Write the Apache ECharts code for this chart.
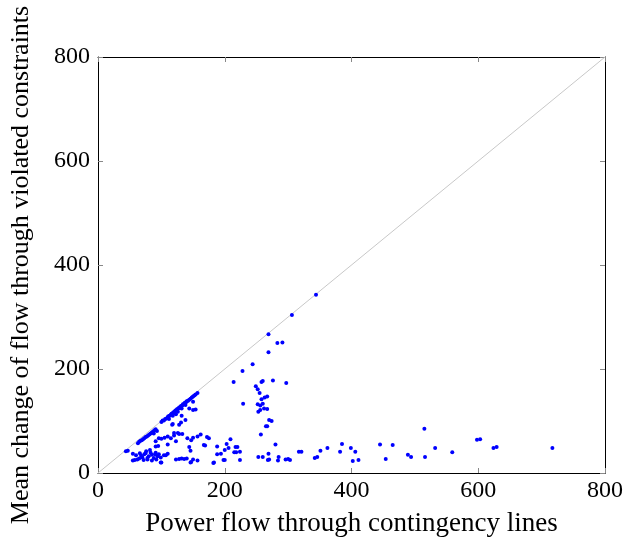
<!DOCTYPE html>
<html>
<head>
<meta charset="utf-8">
<script src="https://cdn.jsdelivr.net/npm/echarts@6/dist/echarts.min.js"></script>
<style>
  html, body { margin: 0; padding: 0; background: #fff; }
  #chart { width: 626px; height: 542px; }
</style>
</head>
<body>
<div id="chart"></div>
<script>
var axisTicks = [0, 200, 400, 600, 800];
var diagonal = [[0, 0], [800, 800]];

// points close to the y = x line
var nearDiagonal = [
    [100,98],[102,101],[104,101],[106,104],[108,105],[110,107],[111,109],[113,110],
    [115,112],[116,114],[118,115],[119,117],[121,118],[122,120],[124,121],[125,123],
    [127,124],[128,126],[130,127],[131,129],[133,130],[134,132],[136,133],[137,135],
    [139,136],[140,138],[142,139],[144,141],[146,143],[148,145],[150,147],[152,149],
    [154,151],[157,154],[112,104],[118,110],[126,118],[132,124],[138,131],[123,113],
    [150,137],[154,122],[144,124],[150,121],[132,110],[138,102],[131,97],[118,94],
    [128,93],[117,93],[126,77],[120,77],[162,74]
];

// second band and the crowd below it
var lowFlow = [
    [63,57],[65,60],[67,62],[69,63],[71,65],[73,67],[75,69],[77,70],[79,72],[81,74],
    [83,76],[85,78],[87,80],[89,82],[91,84],[93,81],[88,76],
    [91,61],[96,67],[100,66],[105,68],[110,70],[115,67],[120,72],[128,75],[133,75],
    [141,67],[147,63],[150,68],[157,70],[172,69],[123,61],[110,55],[144,50],[146,43],
    [169,53],[91,51],[95,52],
    [44,42],[47,43],[55,37],[55,24],[62,26],[58,25],[65,28],[68,33],[70,30],[73,36],
    [75,38],[78,29],[80,32],[83,39],[85,35],[88,29],[90,36],[91,39],[94,32],[96,36],
    [99,30],[100,20],[104,34],[107,34],[110,37],[72,25],[78,26],[85,24],[92,26],
    [123,26],[128,27],[132,28],[136,27],[140,28],[146,20],[147,21],[150,26],[157,24],
    [99,20],[60,34],[66,38],[76,42],[82,44]
];

// column near 250-300 and the long tail at small mean change
var highFlow = [
    [344,343],[306,304],[269,267],[283,250],[291,251],[269,232],[244,209],[228,196],
    [214,175],[260,177],[258,175],[276,178],[297,173],[249,167],[252,161],[255,154],
    [229,133],[258,142],[263,145],[267,147],[252,132],[256,130],[260,133],[262,124],
    [267,123],[256,121],[253,118],[270,102],[274,100],[265,90],[267,90],[257,74],[280,55],
    [175,67],[167,54],[209,65],[188,51],[203,56],[217,50],[220,50],[200,44],[206,48],
    [215,40],[218,40],[224,41],[188,36],[194,37],[198,25],[200,25],[182,19],[183,20],
    [224,25],[253,31],[260,31],[269,37],[268,25],[270,26],[284,24],[285,31],[296,26],
    [300,27],[303,25],[317,41],[321,41],[342,29],[346,31],[351,43],[362,48],[382,41],
    [385,56],[399,48],[406,41],[402,23],[411,25],[445,55],[454,27],[465,54],[489,35],
    [494,31],[515,85],[516,31],[532,48],[559,40],[598,64],[603,65],[624,48],[629,50],
    [717,48]
];

var serif = '"Liberation Serif", "DejaVu Serif", serif';

function makeAxis(pos, showLabel, name) {
    return {
        type: 'value',
        position: pos,
        min: axisTicks[0],
        max: axisTicks[axisTicks.length - 1],
        interval: axisTicks[1] - axisTicks[0],
        name: name || '',
        nameLocation: 'middle',
        nameTextStyle: { fontFamily: serif, fontSize: 26, color: '#000' },
        axisLine: { show: true, onZero: false, lineStyle: { color: '#000', width: 1 } },
        axisTick: { show: true, inside: true, length: 5, lineStyle: { color: '#888' } },
        axisLabel: {
            show: showLabel,
            fontFamily: serif, fontSize: 24, color: '#000', margin: 8
        },
        splitLine: { show: false }
    };
}

var myChart = echarts.init(document.getElementById('chart'));

var xBottom = makeAxis('bottom', true, 'Power flow through contingency lines');
xBottom.nameGap = 37;
xBottom.nameTextStyle.fontSize = 27;
xBottom.axisLabel.margin = 6;
var yLeft = makeAxis('left', true, 'Mean change of flow through violated constraints');
yLeft.nameGap = 64;

var option = {
    animation: false,
    grid: { left: 97, right: 21, top: 57, bottom: 65 },
    xAxis: [xBottom, makeAxis('top', false)],
    yAxis: [yLeft, makeAxis('right', false)],
    series: [
        {
            type: 'line',
            data: diagonal,
            symbol: 'none',
            lineStyle: { color: '#c8c8c8', width: 1 },
            z: 1
        },
        {
            type: 'scatter',
            data: nearDiagonal.concat(lowFlow, highFlow),
            symbolSize: 4,
            itemStyle: { color: '#0000ff', opacity: 1 },
            z: 3
        }
    ]
};
myChart.setOption(option);
</script>
</body>
</html>
